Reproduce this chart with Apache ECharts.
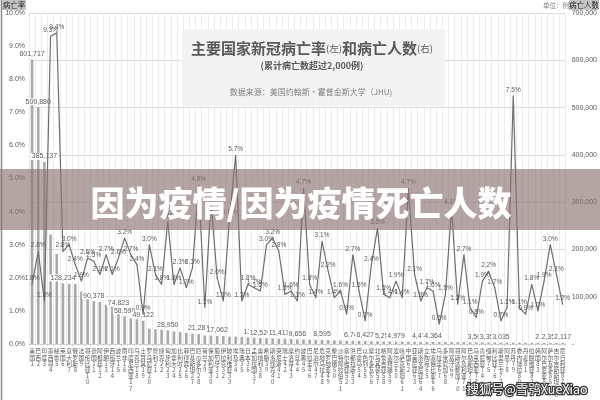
<!DOCTYPE html>
<html><head><meta charset="utf-8">
<script src="https://cdn.jsdelivr.net/npm/echarts@6/dist/echarts.min.js"></script>
<style>html,body{margin:0;padding:0;background:#fff}#c{width:600px;height:400px}</style>
</head><body><div id="c"></div>
<script>
const countries = ['美国','巴西','印度','墨西哥','秘鲁','英国','意大利','俄罗斯','法国','哥伦比亚',
'德国','阿根廷','伊朗','西班牙','波兰','南非','印度尼西亚','乌克兰','土耳其','罗马尼亚',
'智利','捷克','匈牙利','加拿大','比利时','菲律宾','巴基斯坦','厄瓜多尔','荷兰','保加利亚',
'葡萄牙','伊拉克','玻利维亚','埃及','瑞典','日本','孟加拉国','奥地利','希腊','斯洛伐克',
'突尼斯','瑞士','摩洛哥','约旦','波黑','巴拉圭','尼泊尔','危地马拉','克罗地亚','黎巴嫩',
'沙特阿拉伯','塞尔维亚','洪都拉斯','巴拿马','以色列','摩尔多瓦','北马其顿','格鲁吉亚','阿塞拜疆','爱尔兰',
'哈萨克斯坦','中国','亚美尼亚','斯洛文尼亚','立陶宛','埃塞俄比亚','乌拉圭','多米尼加','阿富汗','哥斯达黎加',
'阿尔及利亚','巴勒斯坦','马来西亚','肯尼亚','缅甸','利比亚','斯里兰卡','阿曼','苏丹','委内瑞拉',
'丹麦','拉脱维亚','韩国','阿尔巴尼亚','萨尔瓦多','吉尔吉斯斯坦','尼日利亚'];

const deaths = [601717,500880,385137,231505,190202,128234,127322,126800,110900,98746,
90378,88742,83101,80652,74823,58590,54662,52300,49122,32380,
31200,30250,28950,26200,25150,23200,22100,21284,17950,17800,
17062,16950,15600,15500,14600,14400,13300,12520,12200,11900,
11411,10900,10750,9656,9500,9200,8900,8595,8300,7900,
7500,7100,6745,6600,6427,6100,5600,5250,5100,4979,
4900,4800,4700,4475,4420,4364,4300,4200,4050,3900,
3750,3600,3509,3450,3350,3200,3035,2950,2850,2750,
2650,2600,2500,2453,2350,2250,2117];

const rates = [1.8,2.8,1.3,9.3,9.4,2.8,3.0,2.4,1.9,2.6,
2.5,2.1,2.7,2.1,2.6,3.2,2.7,2.4,0.9,3.0,
2.1,1.8,3.7,1.8,2.3,1.7,2.3,4.8,1.1,4.3,
2.0,1.3,3.8,5.7,1.3,1.8,1.7,1.6,3.0,3.2,
2.8,1.5,1.6,1.3,4.7,1.8,1.4,3.1,2.2,1.4,
1.6,0.9,2.7,1.6,0.7,2.4,3.5,1.5,1.4,1.9,
1.4,4.7,2.1,1.3,1.7,1.6,0.6,1.5,4.1,1.2,
2.7,1.1,0.8,1.9,2.2,1.7,0.7,1.1,7.5,1.1,
0.9,1.8,1.0,1.9,3.0,2.1,1.2];

// ranks whose death count carries a value label
const labeledRanks = [1,2,3,6,11,15,16,19,23,28,31,37,38,41,44,48,53,55,58,60,64,66,73,75,77,84,85,87];

const FONT = '"Liberation Sans","Noto Sans CJK SC",sans-serif';
const CJK = '"Noto Sans CJK SC","Liberation Sans",sans-serif';
const fmtNum = v => v.toLocaleString('en-US');

const chart = echarts.init(document.getElementById('c'), null, {renderer:'canvas'});

const barData = deaths.map((v,i) => labeledRanks.includes(i+1) ? {value:v, label:{show:true}} : v);

chart.setOption({
  animation:false,
  textStyle:{fontFamily:FONT},
  grid:{left:29,right:29,top:13,bottom:56,containLabel:false},
  xAxis:{
    type:'category', data:countries, boundaryGap:true,
    axisLine:{lineStyle:{color:'#d0d0d0'}},
    axisTick:{show:true,length:2,lineStyle:{color:'#d0d0d0'}},
    splitLine:{show:true,interval:0,lineStyle:{color:'#ececec',width:1}},
    axisLabel:{interval:0,fontSize:5.8,lineHeight:6.2,color:'#595959',margin:4,fontFamily:CJK,
      formatter:(v,i)=> (v + String(i+1)).split('').join('\n')}
  },
  yAxis:[
    {type:'value',min:0,max:10,interval:1,position:'left',
     axisLine:{show:false},axisTick:{show:false},splitLine:{show:false},
     axisLabel:{fontSize:7,color:'#595959',margin:4,formatter:v=>v.toFixed(1)+'%'}},
    {type:'value',min:0,max:700000,interval:100000,position:'right',
     axisLine:{show:false},axisTick:{show:false},
     splitLine:{show:true,lineStyle:{color:'#d9d9d9',width:1}},
     axisLabel:{fontSize:7,color:'#595959',margin:6,formatter:v=> v===0?'-':fmtNum(v)}}
  ],
  series:[
    {type:'bar',yAxisIndex:1,data:barData,barWidth:2.6,z:2,
     itemStyle:{color:'#a9a9a9'},
     label:{show:false,position:'top',distance:2,fontSize:7,color:'#595959',
       backgroundColor:'#ffffff',padding:[0,1],formatter:p=>fmtNum(p.value)}},
    {type:'line',yAxisIndex:0,data:rates,z:4,symbol:'circle',symbolSize:1,
     itemStyle:{color:'#6e6e6e'},lineStyle:{color:'#6e6e6e',width:1.2},
     label:{show:true,position:'top',distance:2,fontSize:6.5,color:'#595959',
       formatter:p=>p.value.toFixed(1)+'%'}}
  ],
  graphic:[
    {type:'line',shape:{x1:1.5,y1:0,x2:1.5,y2:400},style:{stroke:'#8c8c8c',lineWidth:1.5},z:20},
    {type:'rect',shape:{x:2,y:0,width:24,height:10},style:{fill:'#c4c4c4'},z:20},
    {type:'text',x:14,y:5,style:{text:'病亡率',fontSize:7.5,fill:'#262626',align:'center',verticalAlign:'middle',fontFamily:CJK},z:21},
    {type:'text',x:556,y:6,style:{text:'单位：例',fontSize:6.5,fill:'#7f7f7f',align:'center',verticalAlign:'middle',fontFamily:CJK},z:21},
    {type:'rect',shape:{x:569,y:0,width:30,height:10},style:{fill:'#c4c4c4'},z:20},
    {type:'text',x:584,y:5,style:{text:'病亡人数',fontSize:7.5,fill:'#262626',align:'center',verticalAlign:'middle',fontFamily:CJK},z:21},
    {type:'rect',shape:{x:182,y:29,width:263,height:77},style:{fill:'rgba(242,242,242,0.95)'},z:10},
    {type:'text',x:312,y:48,z:11,style:{
      text:'{a|主要国家新冠病亡率}{b|(左)}{a|和病亡人数}{b|(右)}',align:'center',verticalAlign:'middle',
      rich:{a:{fontSize:15,fill:'#595959',fontFamily:CJK,fontWeight:'bold'},b:{fontSize:9.5,fill:'#595959',fontFamily:CJK}}}},
    {type:'text',x:312,y:66,z:11,style:{text:'(累计病亡数超过2,000例)',fontSize:9,fontWeight:'bold',fill:'#595959',align:'center',verticalAlign:'middle',fontFamily:CJK}},
    {type:'text',x:311,y:92,z:11,style:{text:'数据来源：美国约翰斯·霍普金斯大学（JHU)',fontSize:8,fill:'#7f7f7f',align:'center',verticalAlign:'middle',fontFamily:CJK}},
    {type:'rect',shape:{x:0,y:169,width:600,height:61},style:{fill:'rgba(140,115,115,0.65)'},z:30},
    {type:'text',x:301,y:203,z:31,style:{text:'因为疫情/因为疫情死亡人数',fontSize:34,fontWeight:900,fill:'#ffffff',align:'center',verticalAlign:'middle',fontFamily:CJK}},
    {type:'text',x:527,y:389,z:32,style:{text:'搜狐号@雪鸮XueXiao',fontSize:12.5,fill:'#ffffff',stroke:'#3a3a3a',lineWidth:2.5,align:'center',verticalAlign:'middle',fontFamily:CJK}}
  ]
});
</script>
</body></html>
